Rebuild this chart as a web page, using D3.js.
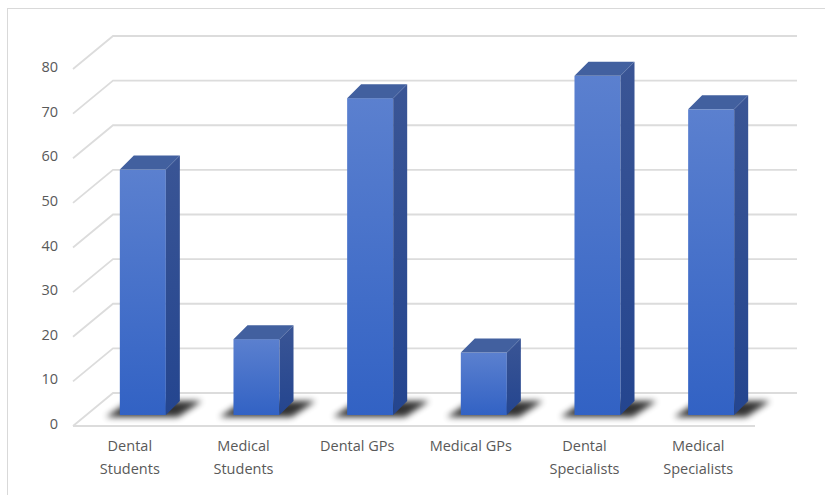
<!DOCTYPE html>
<html>
<head>
<meta charset="utf-8">
<script src="https://cdn.jsdelivr.net/npm/d3@7"></script>
<style>
body { margin: 0; background: #fff; }
svg { display: block; font-family: 'Open Sans', sans-serif; }
</style>
</head>
<body>
<svg width="825" height="495"></svg>
<script>
var categories = [['Dental', 'Students'], ['Medical', 'Students'], ['Dental GPs'], ['Medical GPs'], ['Dental', 'Specialists'], ['Medical', 'Specialists']];
var values = [55, 17, 71, 14, 76, 68.5];
var ticks = [0, 10, 20, 30, 40, 50, 60, 70, 80];

var svg = d3.select('svg');

// depth of the floor / back wall
var wallDx = 40, wallDy = -33;
// bar front sits a third of the way back; its own depth
var barOffX = 13, barOffY = -11, barDx = 14, barDy = -14;

var x = d3.scaleBand().domain(d3.range(categories.length)).range([73, 755]);
var y = d3.scaleLinear().domain([0, 80]).range([426, 69]);
var barW = x.step() * 0.405;

svg.append('rect')
  .attr('x', 7.5).attr('y', 8.5).attr('width', 830).attr('height', 500)
  .attr('fill', 'none').attr('stroke', '#d9d9d9');

var defs = svg.append('defs');
var gFront = defs.append('linearGradient').attr('id', 'front').attr('x1', 0).attr('y1', 0).attr('x2', 0).attr('y2', 1);
gFront.append('stop').attr('offset', 0).attr('stop-color', '#5b80cf');
gFront.append('stop').attr('offset', 1).attr('stop-color', '#3262c4');
var gSide = defs.append('linearGradient').attr('id', 'side').attr('x1', 0).attr('y1', 0).attr('x2', 0).attr('y2', 1);
gSide.append('stop').attr('offset', 0).attr('stop-color', '#3a5595');
gSide.append('stop').attr('offset', 1).attr('stop-color', '#24458f');
defs.append('filter').attr('id', 'blur').attr('x', '-50%').attr('y', '-100%').attr('width', '200%').attr('height', '300%')
  .append('feGaussianBlur').attr('stdDeviation', 3);

// grid
var grid = svg.append('g').attr('stroke', '#dcdcdc').attr('stroke-width', 1.8).attr('fill', 'none');
ticks.forEach(function(t) {
  var yf = y(t);
  grid.append('path')
    .attr('d', 'M' + x.range()[0] + ',' + yf + 'L' + (x.range()[0] + wallDx) + ',' + (yf + wallDy) +
      'L' + (x.range()[1] + wallDx + 2) + ',' + (yf + wallDy));
});
grid.append('line')
  .attr('x1', x.range()[0]).attr('x2', x.range()[1]).attr('y1', y(0)).attr('y2', y(0));

// y labels
svg.append('g').selectAll('text')
  .data(ticks).enter().append('text')
  .attr('x', 58).attr('y', function(d) { return y(d) - 2; })
  .attr('dy', '0.35em').attr('text-anchor', 'end')
  .attr('font-size', 14.5).attr('fill', '#595959')
  .text(function(d) { return d; });

// bars
var bars = svg.append('g').selectAll('g')
  .data(values).enter().append('g')
  .attr('transform', function(d, i) {
    return 'translate(' + (x(i) + x.bandwidth() / 2 + barOffX - barW / 2) + ',' + barOffY + ')';
  });

bars.append('path')
  .attr('fill', '#000').attr('opacity', 0.8).attr('filter', 'url(#blur)')
  .attr('d', function() {
    var b = y(0);
    return 'M' + (-14) + ',' + (b + 2) + 'L' + (barW + 12) + ',' + (b + 2) +
      'L' + (barW + barDx + 22) + ',' + (b + barDy) + 'L' + (barDx - 4) + ',' + (b + barDy) + 'Z';
  });

bars.append('rect')
  .attr('x', 0).attr('y', function(d) { return y(d); })
  .attr('width', barW).attr('height', function(d) { return y(0) - y(d); })
  .attr('fill', 'url(#front)');

bars.append('path')
  .attr('fill', 'url(#side)')
  .attr('d', function(d) {
    return 'M' + barW + ',' + y(d) + 'L' + (barW + barDx) + ',' + (y(d) + barDy) +
      'L' + (barW + barDx) + ',' + (y(0) + barDy) + 'L' + barW + ',' + y(0) + 'Z';
  });

bars.append('path')
  .attr('fill', '#42609f')
  .attr('d', function(d) {
    return 'M0,' + y(d) + 'L' + barDx + ',' + (y(d) + barDy) +
      'L' + (barW + barDx) + ',' + (y(d) + barDy) + 'L' + barW + ',' + y(d) + 'Z';
  });

// category labels
var lab = svg.append('g').selectAll('text')
  .data(categories).enter().append('text')
  .attr('x', function(d, i) { return x(i) + x.bandwidth() / 2; })
  .attr('y', 451)
  .attr('text-anchor', 'middle').attr('font-size', 14.5).attr('fill', '#595959');
lab.selectAll('tspan')
  .data(function(d) { return d; }).enter().append('tspan')
  .attr('x', function() { return d3.select(this.parentNode).attr('x'); })
  .attr('dy', function(d, i) { return i ? 23 : 0; })
  .text(function(d) { return d; });
</script>
</body>
</html>
